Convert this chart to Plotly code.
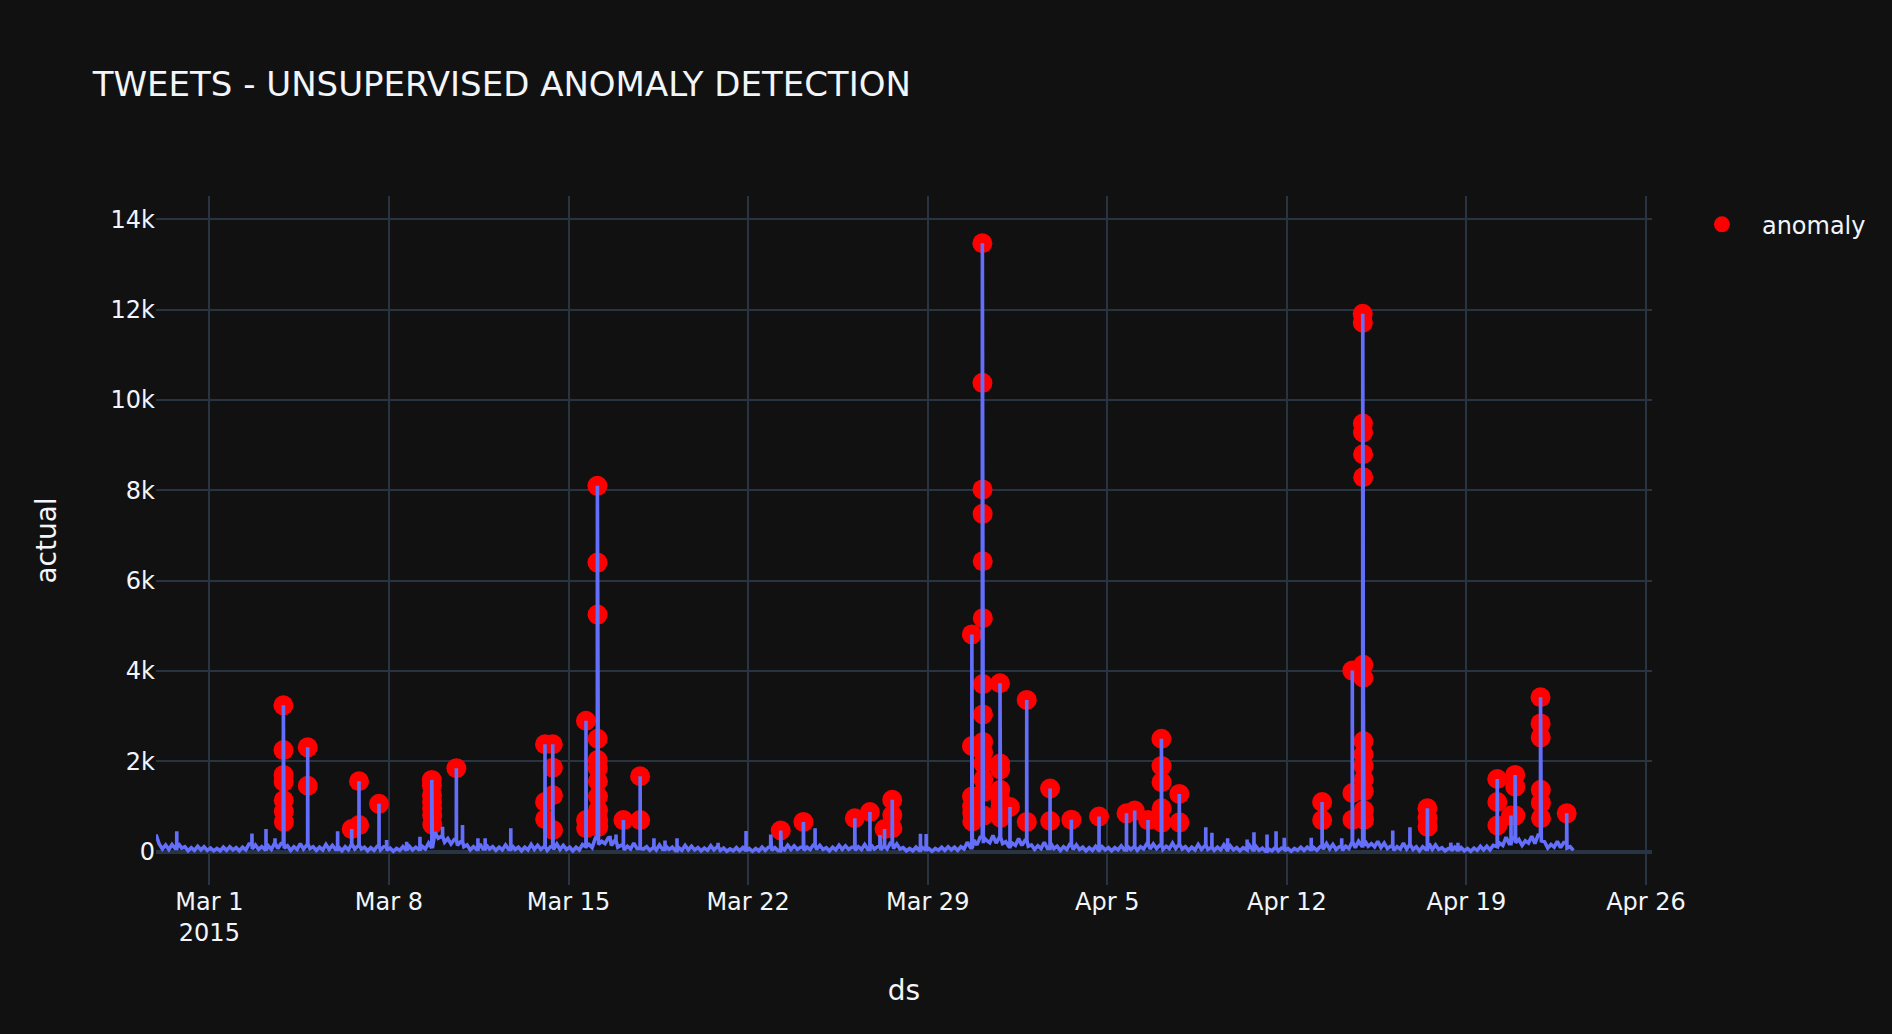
import pandas as pd
import plotly.graph_objects as go

# ---------------- data ----------------
# 3-hourly level of the noisy background band, starting at BASE_START
BASE_START = "2015-02-26 22:05"
BASE_STEP_HOURS = 3
BASE_VALUES = [
    380,
    170, 60, 150, 50, 160, 70, 180, 80,       # Feb 27
    110, 20, 90, 30, 120, 40, 110, 30,        # Feb 28
    80, 20, 70, 20, 100, 30, 110, 40,         # Mar 1
    90, 20, 100, 40, 170, 60, 150, 50,        # Mar 2
    110, 30, 130, 50, 190, 70, 180, 80,       # Mar 3
    130, 30, 110, 50, 180, 60, 170, 70,       # Mar 4
    110, 30, 100, 40, 160, 50, 140, 50,       # Mar 5
    100, 20, 110, 40, 170, 60, 150, 60,       # Mar 6
    100, 20, 90, 30, 120, 40, 110, 30,        # Mar 7
    80, 10, 70, 30, 110, 30, 120, 40,         # Mar 8
    100, 30, 120, 60, 190, 80, 430, 300,      # Mar 9
    340, 210, 290, 170, 270, 140, 220, 110,   # Mar 10
    150, 40, 110, 50, 170, 60, 150, 60,       # Mar 11
    110, 30, 100, 40, 150, 50, 140, 50,       # Mar 12
    100, 20, 100, 40, 160, 50, 140, 50,       # Mar 13
    110, 30, 110, 50, 170, 50, 140, 50,       # Mar 14
    100, 20, 100, 40, 160, 110, 160, 90,      # Mar 15
    300, 160, 230, 180, 300, 140, 240, 100,   # Mar 16
    140, 40, 120, 60, 190, 70, 170, 60,       # Mar 17
    110, 30, 100, 40, 150, 50, 130, 50,       # Mar 18
    100, 20, 90, 30, 140, 40, 120, 40,        # Mar 19
    90, 20, 80, 30, 130, 40, 110, 30,         # Mar 20
    80, 10, 60, 20, 90, 20, 90, 20,           # Mar 21
    70, 10, 70, 20, 100, 30, 100, 30,         # Mar 22
    90, 20, 100, 40, 140, 50, 130, 50,        # Mar 23
    100, 30, 100, 50, 150, 50, 140, 50,       # Mar 24
    90, 20, 100, 40, 140, 50, 130, 50,        # Mar 25
    100, 30, 110, 50, 160, 50, 150, 60,       # Mar 26
    110, 40, 120, 60, 190, 70, 170, 60,       # Mar 27
    90, 20, 70, 20, 100, 30, 90, 30,          # Mar 28
    70, 10, 70, 30, 100, 30, 110, 40,         # Mar 29
    100, 30, 110, 60, 210, 90, 260, 150,      # Mar 30
    320, 190, 250, 200, 360, 190, 320, 180,   # Mar 31
    220, 110, 190, 140, 290, 140, 250, 120,   # Apr 1
    150, 50, 130, 70, 210, 70, 190, 70,       # Apr 2
    120, 30, 110, 50, 170, 50, 150, 50,       # Apr 3
    100, 20, 90, 30, 120, 30, 110, 40,        # Apr 4
    90, 20, 90, 40, 130, 40, 120, 50,         # Apr 5
    110, 30, 110, 60, 180, 60, 170, 70,       # Apr 6
    140, 50, 120, 70, 190, 70, 170, 60,       # Apr 7
    110, 30, 100, 40, 160, 50, 150, 50,       # Apr 8
    100, 30, 100, 40, 150, 40, 130, 40,       # Apr 9
    90, 20, 90, 40, 140, 40, 120, 30,         # Apr 10
    80, 10, 60, 20, 90, 20, 80, 20,           # Apr 11
    70, 10, 70, 30, 100, 30, 100, 30,         # Apr 12
    90, 30, 110, 60, 180, 60, 160, 50,        # Apr 13
    110, 30, 120, 70, 220, 90, 230, 130,      # Apr 14
    240, 120, 180, 110, 230, 90, 190, 70,     # Apr 15
    120, 30, 110, 60, 190, 60, 160, 50,       # Apr 16
    110, 20, 110, 50, 180, 50, 150, 50,       # Apr 17
    90, 20, 70, 20, 100, 20, 90, 20,          # Apr 18
    70, 10, 80, 30, 120, 40, 120, 40,         # Apr 19
    140, 110, 190, 140, 320, 180, 300, 200,   # Apr 20
    270, 140, 240, 190, 340, 180, 370, 240,   # Apr 21
    220, 80, 160, 100, 230, 90, 200, 80,      # Apr 22
    110, 30,                                  # Apr 23
]

# bursts flagged as anomalies: start time and consecutive 5-minute values
ANOMALY_TIMES = [
    "2015-03-03 21:15", "2015-03-04 20:00", "2015-03-06 13:10", "2015-03-06 20:00",
    "2015-03-07 14:45", "2015-03-09 16:05", "2015-03-10 15:05", "2015-03-14 02:00",
    "2015-03-14 09:15", "2015-03-15 16:20", "2015-03-16 03:00", "2015-03-17 03:20",
    "2015-03-17 19:00", "2015-03-23 06:30", "2015-03-24 03:45", "2015-03-26 03:50",
    "2015-03-26 18:00", "2015-03-27 07:40", "2015-03-27 14:50", "2015-03-30 17:20",
    "2015-03-31 03:10", "2015-03-31 19:40", "2015-04-01 05:00", "2015-04-01 20:40",
    "2015-04-02 18:30", "2015-04-03 14:25", "2015-04-04 16:20", "2015-04-05 18:00",
    "2015-04-06 01:40", "2015-04-06 14:10", "2015-04-07 02:40", "2015-04-07 19:25",
    "2015-04-13 09:00", "2015-04-14 13:15", "2015-04-14 23:00", "2015-04-17 11:30",
    "2015-04-20 04:50", "2015-04-20 17:45", "2015-04-20 21:35", "2015-04-21 21:20",
    "2015-04-22 21:50",
]
ANOMALY_VALUES = [
    [3240, 2250, 1700, 1550, 1140, 890, 660],
    [2310, 1460],
    [500],
    [1560, 590],
    [1060],
    [1590, 1470, 1250, 1100, 960, 800, 600],
    [1850],
    [2380, 1100, 720],
    [2380, 1860, 1250, 480],
    [2900, 700, 520],
    [8100, 6400, 5250, 2500, 2030, 1850, 1560, 1220, 920, 700, 550],
    [700],
    [1670, 700],
    [470],
    [660],
    [740],
    [880],
    [500],
    [1150, 810, 520],
    [4810, 2340, 1220, 1000, 860, 670],
    [13470, 10380, 8020, 7480, 6430, 5170, 3710, 3040, 2430, 2200, 1950, 1600, 1320, 800],
    [3730, 1950, 1820, 1370, 1150, 990, 755],
    [990],
    [3360, 660],
    [1400, 680],
    [710],
    [780],
    [850],
    [910],
    [700],
    [2500, 1900, 1540, 960, 650],
    [1280, 650],
    [1100, 700],
    [4010, 1300, 710],
    [11910, 11710, 9480, 9280, 8800, 8290, 4140, 3850, 2450, 2150, 1900, 1600, 1340, 920, 710],
    [960, 750, 550],
    [1610, 1100, 580],
    [800],
    [1700, 1440, 800],
    [3420, 2840, 2530, 1370, 1080, 740],
    [850],
]

# smaller spikes that are not flagged
SPIKE_TIMES = [
    "2015-02-27 17:30", "2015-03-02 15:50", "2015-03-03 05:00", "2015-03-03 13:25",
    "2015-03-06 00:00", "2015-03-07 21:50", "2015-03-08 16:35", "2015-03-09 05:00",
    "2015-03-10 02:10", "2015-03-10 20:50", "2015-03-11 11:15", "2015-03-11 18:00",
    "2015-03-12 18:00", "2015-03-16 14:50", "2015-03-16 20:25", "2015-03-18 07:55",
    "2015-03-18 18:15", "2015-03-19 05:30", "2015-03-20 19:55", "2015-03-21 22:05",
    "2015-03-22 21:10", "2015-03-24 14:40", "2015-03-27 03:20", "2015-03-28 17:15",
    "2015-03-28 22:35", "2015-04-08 20:10", "2015-04-09 01:55", "2015-04-09 16:35",
    "2015-04-10 10:50", "2015-04-10 17:15", "2015-04-11 05:30", "2015-04-11 13:55",
    "2015-04-11 21:35", "2015-04-12 22:50", "2015-04-14 03:20", "2015-04-16 03:05",
    "2015-04-16 19:10", "2015-04-18 09:20", "2015-04-18 16:05",
]
SPIKE_VALUES = [
    450, 400, 500, 300,
    450, 260, 220, 330,
    550, 590, 300, 300,
    520, 350, 380, 300,
    250, 300, 200, 460,
    380, 520, 370, 400,
    390, 540, 420, 300,
    270, 430, 380, 450,
    310, 310, 300, 470,
    540, 200, 200,
]

X_RANGE = ["2015-02-26 22:05", "2015-04-26 05:37"]
Y_RANGE = [-737, 14516]

# ---------------- build the series ----------------
base_t = pd.date_range(BASE_START, periods=len(BASE_VALUES), freq=f"{BASE_STEP_HOURS}h")
base = pd.Series(BASE_VALUES, index=base_t)
step = pd.Timedelta(minutes=5)

points = list(zip(base_t, BASE_VALUES))
anom_x, anom_y = [], []


def add_burst(t, vals, flagged):
    t = pd.Timestamp(t)
    foot = base.asof(t)
    points.append((t - step, foot))
    for j, v in enumerate(vals):
        points.append((t + j * step, v))
        if flagged:
            anom_x.append(t + j * step)
            anom_y.append(v)
    points.append((t + len(vals) * step, foot))


for t, vals in zip(ANOMALY_TIMES, ANOMALY_VALUES):
    add_burst(t, vals, True)
for t, v in zip(SPIKE_TIMES, SPIKE_VALUES):
    add_burst(t, [v], False)

points.sort(key=lambda p: p[0])
line_x = [p[0] for p in points]
line_y = [p[1] for p in points]

# ---------------- figure ----------------
FONT = "DejaVu Sans, Verdana, sans-serif"

fig = go.Figure()
fig.add_trace(go.Scatter(
    x=anom_x, y=anom_y, mode="markers", name="anomaly",
    marker=dict(color="red", size=20),
))
fig.add_trace(go.Scatter(
    x=line_x, y=line_y, mode="lines", name="actual", showlegend=False,
    line=dict(color="#636efa", width=3.6),
))

fig.update_layout(
    template="plotly_dark",
    width=1892, height=1034, autosize=False,
    font=dict(family=FONT, size=24),
    title=dict(text="TWEETS - UNSUPERVISED ANOMALY DETECTION",
               font=dict(size=34), x=0.049, y=0.919, yanchor="middle"),
    margin=dict(l=156, r=240, t=196, b=149, autoexpand=False),
    showlegend=True,
    legend=dict(font=dict(size=24), x=1.02, y=0.991, itemwidth=70),
    xaxis=dict(title=dict(text="ds", font=dict(size=28), standoff=34),
               range=X_RANGE, tick0="2015-03-01", dtick=7 * 86400000,
               gridwidth=2, automargin=False, tickfont=dict(size=24)),
    yaxis=dict(title=dict(text="actual", font=dict(size=28), standoff=45),
               range=Y_RANGE, dtick=2000, gridwidth=2, zerolinewidth=4,
               automargin=False, tickfont=dict(size=24)),
)

fig.write_html(
    "out.html",
    config={"displayModeBar": False},
    post_script="document.body.style.margin='0';document.body.style.overflow='hidden';",
)
